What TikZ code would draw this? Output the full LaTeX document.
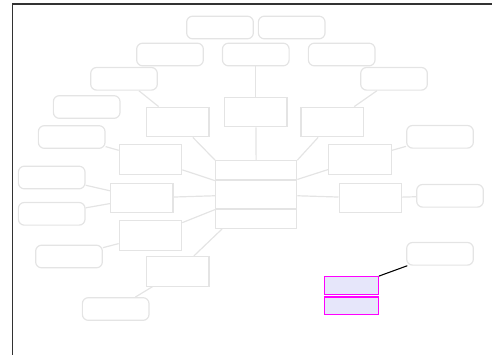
\documentclass[tikz,border=0pt]{standalone}
\begin{document}
\begin{tikzpicture}[x=0.75pt,y=-0.75pt]
\definecolor{lg}{RGB}{228,228,228}
\definecolor{mag}{RGB}{255,0,255}
\definecolor{lav}{RGB}{230,230,250}
\tikzset{
  rbox/.style={draw=lg, line width=0.9pt, rounded corners=4.5pt, minimum width=50pt, minimum height=17pt, inner sep=0pt},
  sbox/.style={draw=lg, line width=0.9pt, minimum width=46.8pt, minimum height=22.2pt, inner sep=0pt},
  cbox/.style={draw=lg, line width=0.9pt, minimum width=60.8pt, inner sep=0pt},
  mbox/.style={draw=mag, fill=lav, line width=0.9pt, minimum width=40.5pt, minimum height=13.2pt, inner sep=0pt},
  conn/.style={draw=lg, line width=0.9pt},
  frame/.style={draw={rgb,255:red,50;green,50;blue,50}, line width=1.3pt}
}
\useasboundingbox (0,0) rectangle (492,354);
\coordinate (ftl) at (12.5,3.8);
\coordinate (ftr) at (495,3.8);
\coordinate (fbl) at (12.5,357);
\draw[frame] (ftr) -- (ftl) -- (fbl);

% rounded boxes
\node[rbox] (R1) at (220,27.5) {};
\node[rbox] (R2) at (291.7,27.5) {};
\node[rbox] (R3) at (170,54.5) {};
\node[rbox] (R4) at (255.8,54.5) {};
\node[rbox] (R5) at (341.7,54.5) {};
\node[rbox] (R6) at (124,78.8) {};
\node[rbox] (R7) at (394,78.8) {};
\node[rbox] (R8) at (86.7,107) {};
\node[rbox] (R9) at (71.7,137) {};
\node[rbox] (R10) at (440,136.8) {};
\node[rbox] (R11) at (51.7,177.5) {};
\node[rbox] (R12) at (51.7,213.8) {};
\node[rbox] (R13) at (450,195.8) {};
\node[rbox] (R14) at (69,256.5) {};
\node[rbox] (R15) at (440,253.8) {};
\node[rbox] (R16) at (115.7,309) {};

% rectangles
\node[sbox] (S1) at (177.8,122) {};
\node[sbox] (S2) at (255.8,112) {};
\node[sbox] (S3) at (332.2,122) {};
\node[sbox] (S4) at (150.5,159.3) {};
\node[sbox] (S5) at (360,159.3) {};
\node[sbox] (S6) at (141.7,198) {};
\node[sbox] (S7) at (370.3,198) {};
\node[sbox] (S8) at (150.5,235.3) {};
\node[sbox] (S9) at (177.8,271.3) {};

% central stack
\node[cbox, minimum height=14.5pt] (C1) at (256.2,170.4) {};
\node[cbox, minimum height=21.7pt] (C2) at (256.2,194.5) {};
\node[cbox, minimum height=14.5pt] (C3) at (256.2,218.7) {};

% magenta boxes
\node[mbox] (M1) at (351.3,285.5) {};
\node[mbox] (M2) at (351.3,305.8) {};

% connectors
\draw[conn] (R6) -- (S1);
\draw[conn] (R4) -- (S2);
\draw[conn] (S2) -- (C1);
\draw[conn] (R7) -- (S3);
\draw[conn] (S1) -- (C1.north west);
\draw[conn] (S3) -- (C1.north east);
\draw[conn] (R9) -- (S4);
\draw[conn] (S4) -- (C1.south west);
\draw[conn] (R10) -- (S5);
\draw[conn] (S5) -- (C2.north east);
\draw[conn] (R11) -- (S6);
\draw[conn] (R12) -- (S6);
\draw[conn] (S6) -- (C2);
\draw[conn] (S8) -- (C2.south west);
\draw[conn] (R14) -- (S8);
\path (C3.south west) ++(7,0) coordinate (c3s);
\draw[conn] (c3s) -- (S9);
\draw[conn] (R16) -- (S9);
\draw[conn] (C2) -- (S7);
\draw[conn] (S7) -- (R13);
\draw[black, line width=0.8pt] (R15) -- (M1.north east);
\end{tikzpicture}
\end{document}
